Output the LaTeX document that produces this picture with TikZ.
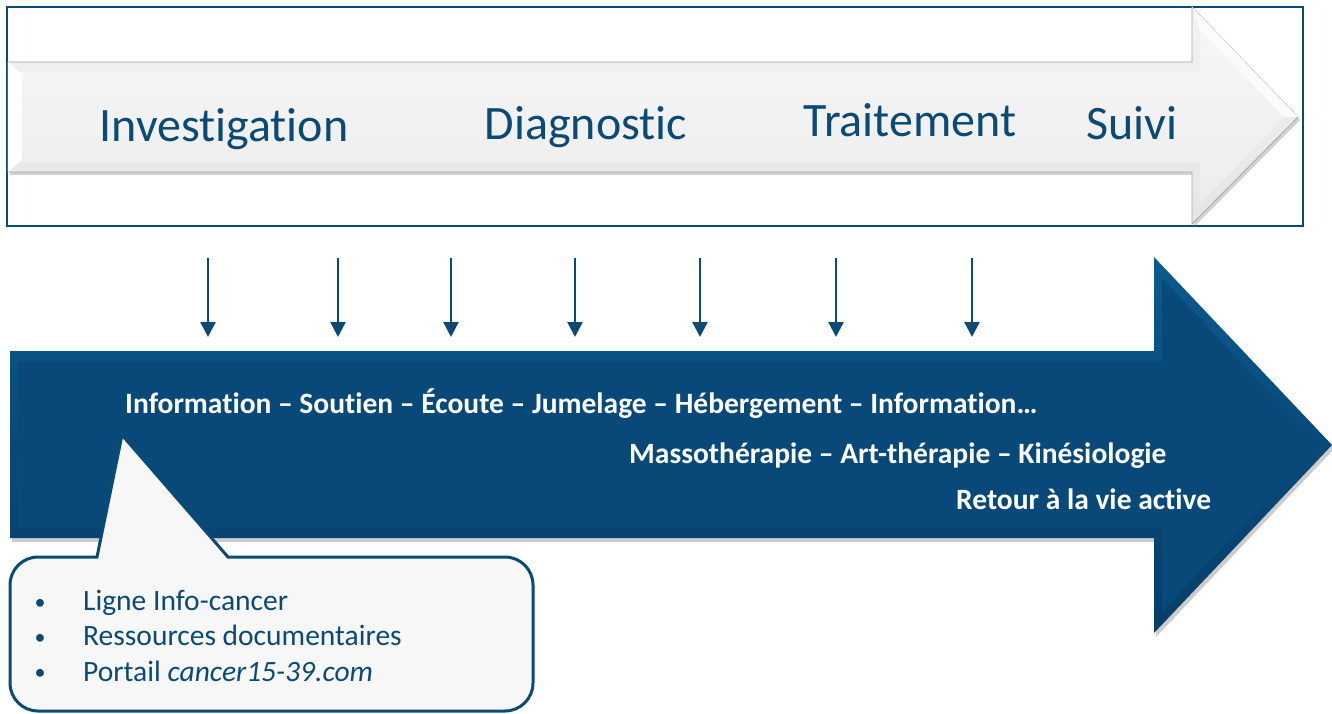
\documentclass[tikz,border=0pt]{standalone}
\usepackage{fontspec}
\setmainfont[RawFeature={-liga;-clig;-calt;-dlig}]{Carlito}
\usetikzlibrary{arrows.meta,shadows,shadings}
\definecolor{dblue}{HTML}{0B4A75}
\definecolor{afill}{HTML}{08497A}
\definecolor{afilltop}{HTML}{0E5A8E}
\definecolor{afillbot}{HTML}{073E68}
\definecolor{grayedge}{HTML}{A8A8A8}
\definecolor{calfill}{HTML}{F7F7F7}
\tikzset{
  phase/.style={anchor=base, text=dblue, font=\fontsize{48}{52}\selectfont, inner sep=0pt},
  svc/.style={anchor=base west, text=white, font=\bfseries\fontsize{29.5}{32}\selectfont, inner sep=0pt},
  item/.style={anchor=base west, text=dblue, font=\fontsize{29.5}{32}\selectfont, inner sep=0pt},
  bul/.style={anchor=base, text=dblue, font=\fontsize{22}{26}\selectfont, inner sep=0pt},
  down/.style={draw=dblue, line width=2.4pt, -{Triangle[length=15pt,width=15pt]}},
}
\begin{document}
\begin{tikzpicture}[x=1pt,y=-1pt]
\useasboundingbox (0,0) rectangle (1332,714);
\fill[white] (0,0) rectangle (1332,714);

% top frame
\draw[dblue, line width=2pt] (7,7) rectangle (1303,226);

% grey arrow (outer)
\path[drop shadow={shadow xshift=2pt,shadow yshift=-3pt,opacity=0.35}, top color=white!90!gray, bottom color=white!80!gray, draw=grayedge, line width=0.8pt]
  (8,62) -- (1192,62) -- (1192,7) -- (1298,117) -- (1192,224) -- (1192,172) -- (8,172) -- cycle;
% grey arrow (inner bevel)
\path[top color=white!93!gray, bottom color=white!86!gray]
  (22,72) -- (1200,72) -- (1200,30) -- (1284,117) -- (1200,203) -- (1200,162) -- (22,162) -- cycle;
% left bevel highlight
\fill[white] (8,62) -- (22,74) -- (22,160) -- (8,172) -- cycle;
\fill[white!97!gray] (1192,7) -- (1298,117) -- (1284,117) -- (1200,30) -- cycle;

\node[phase] (inv) at (224,142) {Investigation};
\node[phase] (dia) at (586,140) {Diagnostic};
\node[phase] (tra) at (910,137) {Traitement};
\node[phase] (sui) at (1132,140) {Suivi};

% small down arrows
\foreach \i/\x in {1/208,2/338,3/451,4/575,5/700,6/836,7/972}{
  \coordinate (s\i) at (\x,258);
  \coordinate (e\i) at (\x,337);
  \draw[down] (s\i) -- (e\i);
}

% big blue arrow
\path[drop shadow={shadow xshift=2pt,shadow yshift=-4pt,opacity=0.4}, top color=afilltop, bottom color=afillbot, middle color=afill]
  (10,351) -- (1154,351) -- (1154,257) -- (1332,445) -- (1154,633) -- (1154,538) -- (10,538) -- cycle;
\fill[afill] (18,362) -- (1162,362) -- (1162,278) -- (1318,445) -- (1162,612) -- (1162,528) -- (18,528) -- cycle;

\node[svc] (l1) at (125,413) {Information – Soutien – Écoute – Jumelage – Hébergement – Information…};
\node[svc] (l2) at (629,463) {Massothérapie – Art-thérapie – Kinésiologie};
\node[svc] (l3) at (956,509) {Retour à la vie active};

% callout
\draw[dblue, line width=3pt, fill=calfill]
  (122,435) -- (97,557) [rounded corners=28pt] -- (10,557) -- (10,711) -- (533,711) -- (533,557) [sharp corners] -- (228,557) -- cycle;

\node[bul] (b1) at (40,609) {•};
\node[bul] (b2) at (40,644) {•};
\node[bul] (b3) at (40,679) {•};
\node[item] (c1) at (83,610) {Ligne Info-cancer};
\node[item] (c2) at (83,645) {Ressources documentaires};
\node[item] (c3) at (83,681) {Portail \textit{cancer15-39.com}};
\end{tikzpicture}
\end{document}
